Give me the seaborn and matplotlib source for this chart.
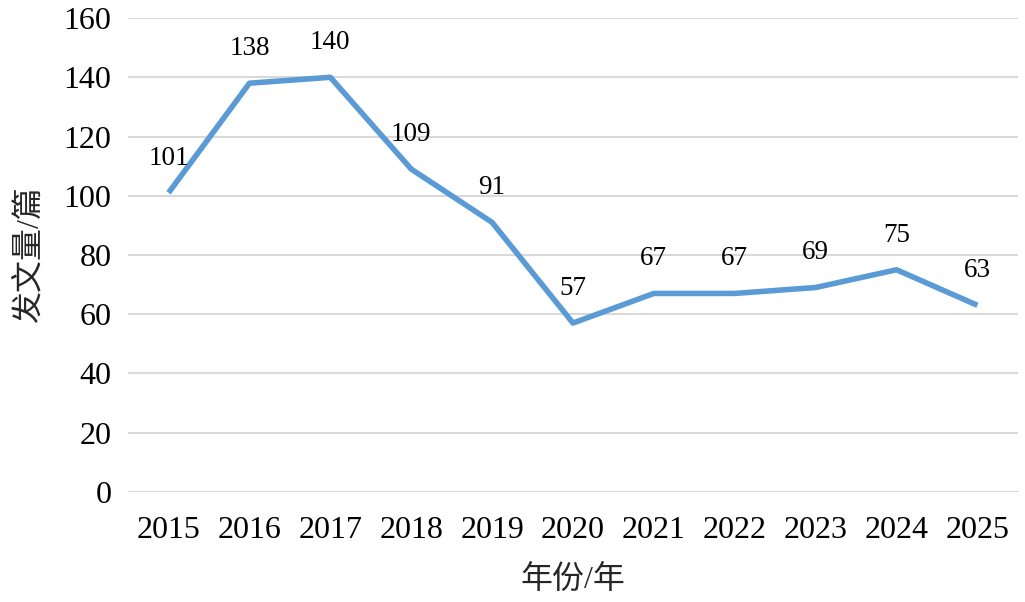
import matplotlib
matplotlib.use("Agg")
import matplotlib.pyplot as plt
import seaborn as sns
import pandas as pd

# data
years = ["2015", "2016", "2017", "2018", "2019", "2020", "2021", "2022", "2023", "2024", "2025"]
counts = [101, 138, 140, 109, 91, 57, 67, 67, 69, 75, 63]
y_ticks = [0, 20, 40, 60, 80, 100, 120, 140, 160]

sns.set_theme(style="white")
plt.rcParams['font.family'] = ['Liberation Serif', 'Noto Sans CJK SC']

df = pd.DataFrame({"year": years, "count": counts})

fig = plt.figure(figsize=(10.25, 6.02), dpi=100)
ax = fig.add_axes([0.125, 0.183, 0.868, 0.787])

sns.lineplot(data=df, x="year", y="count", ax=ax, color="#5B9BD5",
             linewidth=4, sort=False, solid_capstyle="butt")

for i, v in enumerate(counts):
    ax.annotate(str(v), (i, v), xytext=(0, 25), textcoords="offset points",
                ha="center", va="center", fontsize=19.5, color="black")

ax.set_xlim(-0.5, len(years) - 0.5)
ax.set_ylim(0, 160)
ax.set_yticks(y_ticks)
ax.yaxis.grid(True, color="#D9D9D9", linewidth=1.5)
ax.set_axisbelow(True)
for s in ax.spines.values():
    s.set_visible(False)

ax.tick_params(axis="both", length=0, labelsize=23, colors="black")
ax.tick_params(axis="x", pad=17.5)
ax.tick_params(axis="y", pad=12)

ax.set_xlabel("年份/年", fontsize=23, labelpad=15)
ax.set_ylabel("发文量/篇", fontsize=23, labelpad=13.5)

fig.savefig("out.png", dpi=100)
